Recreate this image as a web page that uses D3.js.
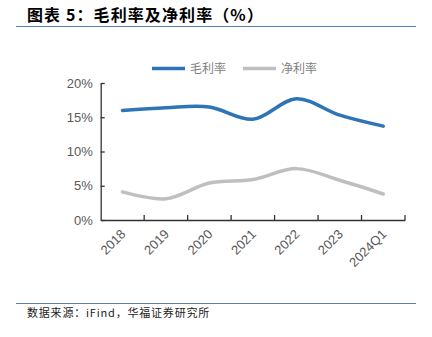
<!DOCTYPE html>
<html><head><meta charset="utf-8">
<script src="https://cdn.jsdelivr.net/npm/d3@7"></script>
<style>body{margin:0;background:#fff;}svg{display:block;}</style>
</head><body>
<script>
const categories = ["2018","2019","2020","2021","2022","2023","2024Q1"];
const grossMargin = [16.0, 16.4, 16.5, 14.7, 17.7, 15.3, 13.7];
const netMargin = [4.1, 3.1, 5.4, 5.9, 7.5, 5.8, 3.8];
const yTicks = [0, 5, 10, 15, 20];
const seriesNames = ["毛利率", "净利率"];

const W = 432, H = 337;
const svg = d3.select("body").append("svg").attr("width", W).attr("height", H);

// title
svg.append("text").attr("x", 27).attr("y", 21)
  .attr("font-family", "Noto Sans CJK SC").attr("font-weight", 700)
  .attr("font-size", 16).attr("letter-spacing", 1.1).attr("fill", "#000")
  .text("图表 5：毛利率及净利率（%）");
svg.append("line").attr("x1", 16).attr("x2", 416).attr("y1", 26.5).attr("y2", 26.5)
  .attr("stroke", "#5B7DB8").attr("stroke-width", 1);

// footer
svg.append("line").attr("x1", 16).attr("x2", 416).attr("y1", 303.5).attr("y2", 303.5)
  .attr("stroke", "#5B7DB8").attr("stroke-width", 1);
svg.append("text").attr("x", 27).attr("y", 317)
  .attr("font-family", "Noto Sans CJK SC").attr("font-size", 11).attr("letter-spacing", 0.8).attr("fill", "#222")
  .text("数据来源：iFind，华福证券研究所");

const x = d3.scaleBand().domain(categories).range([100.7, 405]);
const y = d3.scaleLinear().domain([0, 20]).range([220, 83]);

// y axis
const yAxis = d3.axisLeft(y).tickValues(yTicks).tickFormat(d => d + "%").tickSizeInner(-4).tickSizeOuter(0).tickPadding(8);
const gy = svg.append("g").attr("transform", "translate(100.7,0)").call(yAxis);
gy.select(".domain").attr("stroke", "#333").attr("stroke-width", 1.3);
gy.selectAll(".tick line").attr("stroke", "#333").attr("stroke-width", 1.3);
gy.selectAll(".tick text").attr("font-family", "Liberation Sans, Arial").attr("font-size", 13).attr("fill", "#595959");

// x axis
const xAxis = d3.axisBottom(x).tickSizeInner(0).tickSizeOuter(0).tickFormat(d => d);
const gx = svg.append("g").attr("transform", "translate(0,220)").call(xAxis);
gx.select(".domain").attr("stroke", "#333").attr("stroke-width", 1.3);
gx.selectAll(".tick line").remove();
gx.selectAll(".tick text")
  .attr("font-family", "Liberation Sans, Arial").attr("font-size", 13).attr("fill", "#595959")
  .attr("text-anchor", "end").attr("dy", 0).attr("y", 0)
  .attr("transform", "translate(4,15) rotate(-45)");
// boundary ticks (inside)
const bounds = categories.map(c => x(c) + x.bandwidth());
svg.append("g").selectAll("line").data(bounds).join("line")
  .attr("x1", d => d).attr("x2", d => d).attr("y1", 215).attr("y2", 220)
  .attr("stroke", "#333").attr("stroke-width", 1.3);

const line = d3.line()
  .x((d, i) => x(categories[i]) + x.bandwidth() / 2)
  .y(d => y(d))
  .curve(d3.curveCatmullRom.alpha(0.5));

svg.append("path").attr("d", line(netMargin)).attr("fill", "none")
  .attr("stroke", "#BFBFBF").attr("stroke-width", 3.5).attr("stroke-linecap", "round");
svg.append("path").attr("d", line(grossMargin)).attr("fill", "none")
  .attr("stroke", "#2E75B6").attr("stroke-width", 3.5).attr("stroke-linecap", "round");

// legend
const legend = [{name: seriesNames[0], color: "#2E75B6", x: 152}, {name: seriesNames[1], color: "#BFBFBF", x: 243}];
const lg = svg.append("g").selectAll("g").data(legend).join("g");
lg.append("line").attr("x1", d => d.x).attr("x2", d => d.x + 33).attr("y1", 68.5).attr("y2", 68.5)
  .attr("stroke", d => d.color).attr("stroke-width", 3.5);
lg.append("text").attr("x", d => d.x + 38).attr("y", 73)
  .attr("font-family", "Noto Sans CJK SC").attr("font-size", 12).attr("fill", "#7F7F7F")
  .text(d => d.name);
</script>
</body></html>
